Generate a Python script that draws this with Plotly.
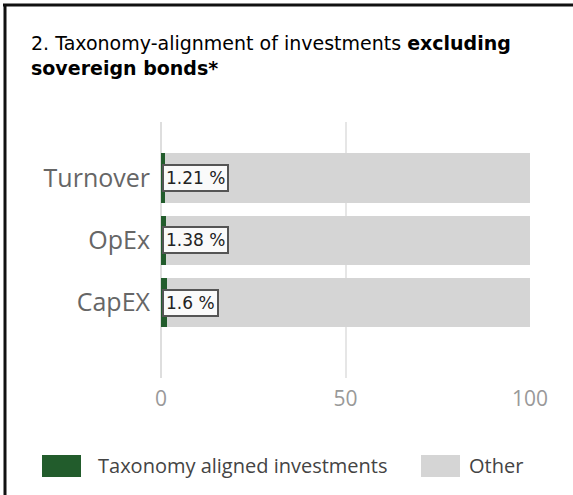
import plotly.graph_objects as go

categories = ["Turnover", "OpEx", "CapEX"]
aligned = [1.21, 1.38, 1.6]
other = [98.79, 98.62, 98.4]
aligned_labels = ["1.21 %", "1.38 %", "1.6 %"]
x_ticks = [0, 50, 100]
series_names = ["Taxonomy aligned investments", "Other"]
series_colors = ["#225c2c", "#d5d5d5"]

W, H = 573, 495
ML, MR, MT, MB = 161, 43, 122, 117
pw = W - ML - MR
ph = H - MT - MB

def px_x(p):
    return (p - ML) / pw

def px_y(p):
    return (H - MB - p) / ph

fig = go.Figure()
fig.add_trace(go.Bar(
    y=categories, x=aligned, orientation="h", name=series_names[0],
    marker=dict(color=series_colors[0], line=dict(width=0)), hoverinfo="skip",
))
fig.add_trace(go.Bar(
    y=categories, x=other, orientation="h", name=series_names[1],
    marker=dict(color=series_colors[1], line=dict(width=0)), hoverinfo="skip",
))

for cat, lab in zip(categories, aligned_labels):
    fig.add_annotation(
        x=0, y=cat, xref="x", yref="y", text=lab, showarrow=False,
        xanchor="left", xshift=1,
        font=dict(family="DejaVu Sans", size=17, color="#222"),
        bgcolor="#fafafa", bordercolor="#555", borderwidth=2, borderpad=2,
    )

fig.add_annotation(
    x=px_x(29), y=px_y(30), xref="paper", yref="paper", xanchor="left", yanchor="top",
    align="left", showarrow=False,
    text="2. Taxonomy-alignment of investments <b>excluding</b><br><b>sovereign bonds*</b>",
    font=dict(family="DejaVu Sans", size=19, color="#000"),
)

# frame
fig.add_shape(type="line", xref="paper", yref="paper", x0=px_x(3), x1=px_x(573), y0=px_y(5), y1=px_y(5),
              line=dict(color="#111", width=3))
fig.add_shape(type="line", xref="paper", yref="paper", x0=px_x(5), x1=px_x(5), y0=px_y(4), y1=px_y(495),
              line=dict(color="#111", width=3))

# legend (custom, wide swatches)
legend_items = [(42, 81, 96), (421, 460, 467)]
for (sx0, sx1, tx), name, col in zip(legend_items, series_names, series_colors):
    fig.add_shape(type="rect", xref="paper", yref="paper", x0=px_x(sx0), x1=px_x(sx1),
                  y0=px_y(455), y1=px_y(477), fillcolor=col, line=dict(width=0))
    fig.add_annotation(x=px_x(tx), y=px_y(465), xref="paper", yref="paper", xanchor="left",
                       yanchor="middle", showarrow=False, text=name,
                       font=dict(family="Open Sans", size=20, color="#444"))

fig.update_layout(
    width=W, height=H, barmode="stack", bargap=0.205,
    margin=dict(l=ML, r=MR, t=MT, b=MB, pad=0),
    paper_bgcolor="white", plot_bgcolor="white",
    font=dict(family="Open Sans"),
    showlegend=False,
    xaxis=dict(range=[0, 100], tickvals=x_ticks, showgrid=True, gridcolor="#e6e6e6", gridwidth=2,
               zeroline=True, zerolinecolor="#dedede", zerolinewidth=2, showline=False,
               tickfont=dict(family="Open Sans", size=21, color="#999"), ticks="", ticklabelstandoff=6),
    yaxis=dict(categoryorder="array", categoryarray=categories, range=[3.21, -0.9],
               showgrid=False, zeroline=False, showline=False, ticks="",
               tickfont=dict(family="Open Sans", size=25, color="#666"), ticklabelstandoff=10),
)

fig.write_html("out.html")
